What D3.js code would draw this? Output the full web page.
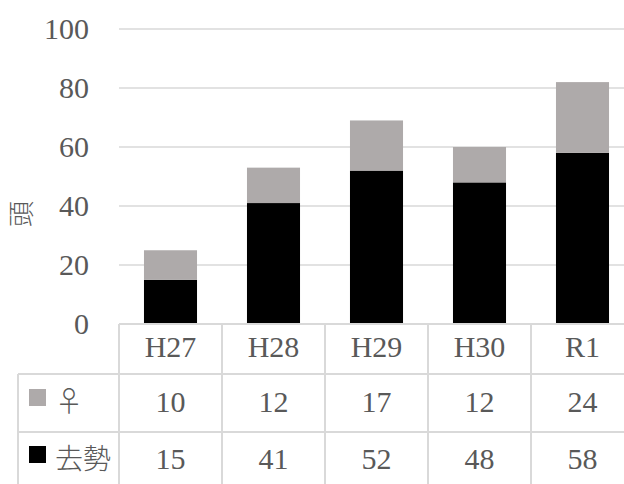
<!DOCTYPE html>
<html>
<head>
<meta charset="utf-8">
<script src="https://cdn.jsdelivr.net/npm/d3@7"></script>
<style>
  body { margin: 0; background: #fff; }
  svg text { fill: #595959; }
</style>
</head>
<body>
<div id="chart-area"></div>
<script>
// Data
var categories = ["H27", "H28", "H29", "H30", "R1"];
var seriesNames = ["去勢", "♀"];
var kyosei = [15, 41, 52, 48, 58];
var female = [10, 12, 17, 12, 24];
var yTicks = [0, 20, 40, 60, 80, 100];

var colors = { "去勢": "#000000", "♀": "#AEAAAA" };
var serif = "'Liberation Serif', 'DejaVu Serif', serif";
var cjk = "'Noto Sans CJK JP', sans-serif";

// SVG size
var width = 624,
    height = 484;

var svg = d3.select("#chart-area").append("svg")
    .attr("width", width)
    .attr("height", height);

// Build stack table
var rows = categories.map(function(c, i) {
    return { cat: c, "去勢": kyosei[i], "♀": female[i] };
});
var stacked = d3.stack().keys(seriesNames)(rows);

// Scales
var plotLeft = 119, plotTop = 29, plotBottom = 324;
var xScale = d3.scaleBand()
    .domain(categories)
    .range([plotLeft, plotLeft + 103 * categories.length])
    .paddingInner(0.485)
    .paddingOuter(0.2425);

var yScale = d3.scaleLinear()
    .domain([0, 100])
    .range([plotBottom, plotTop]);

var step = xScale.step();
var tableLeft = 18;
var rowLines = [plotBottom, 374, 432, 492];
var gridColor = "#D9D9D9";

// Gridlines
svg.selectAll("line.grid")
    .data(yTicks.slice(1))
    .enter()
    .append("line")
    .attr("class", "grid")
    .attr("x1", plotLeft)
    .attr("x2", width)
    .attr("y1", function(d) { return yScale(d); })
    .attr("y2", function(d) { return yScale(d); })
    .attr("stroke", gridColor)
    .attr("stroke-width", 1.5);

// Y tick labels
svg.selectAll("text.ytick")
    .data(yTicks)
    .enter()
    .append("text")
    .attr("class", "ytick")
    .attr("x", 89)
    .attr("y", function(d) { return yScale(d); })
    .attr("dy", "0.33em")
    .attr("text-anchor", "end")
    .style("font-family", serif)
    .style("font-size", "30px")
    .text(function(d) { return d; });

// Y axis title
svg.append("text")
    .attr("transform", "translate(22,214) rotate(-90)")
    .attr("text-anchor", "middle")
    .attr("dy", "0.35em")
    .style("font-family", cjk)
    .style("font-size", "26px")
    .style("font-weight", 300)
    .text("頭");

// Bars
svg.selectAll("g.series")
    .data(stacked)
    .enter()
    .append("g")
    .attr("class", "series")
    .attr("fill", function(d) { return colors[d.key]; })
    .selectAll("rect")
    .data(function(d) { return d; })
    .enter()
    .append("rect")
    .attr("x", function(d) { return xScale(d.data.cat); })
    .attr("y", function(d) { return yScale(d[1]); })
    .attr("width", xScale.bandwidth())
    .attr("height", function(d) { return yScale(d[0]) - yScale(d[1]); });

// Data table: horizontal lines
svg.append("line")
    .attr("x1", plotLeft).attr("x2", width)
    .attr("y1", rowLines[0]).attr("y2", rowLines[0])
    .attr("stroke", gridColor).attr("stroke-width", 2);

svg.selectAll("line.rowline")
    .data(rowLines.slice(1))
    .enter()
    .append("line")
    .attr("class", "rowline")
    .attr("x1", tableLeft).attr("x2", width)
    .attr("y1", function(d) { return d; })
    .attr("y2", function(d) { return d; })
    .attr("stroke", gridColor).attr("stroke-width", 2);

// Vertical lines
var colX = d3.range(categories.length + 1).map(function(i) { return plotLeft + i * step; });
svg.selectAll("line.colline")
    .data(colX)
    .enter()
    .append("line")
    .attr("class", "colline")
    .attr("x1", function(d) { return d; })
    .attr("x2", function(d) { return d; })
    .attr("y1", rowLines[0])
    .attr("y2", height)
    .attr("stroke", gridColor).attr("stroke-width", 2);

svg.append("line")
    .attr("x1", tableLeft).attr("x2", tableLeft)
    .attr("y1", rowLines[1]).attr("y2", height)
    .attr("stroke", gridColor).attr("stroke-width", 2);

// Header labels
svg.selectAll("text.cat")
    .data(categories)
    .enter()
    .append("text")
    .attr("class", "cat")
    .attr("x", function(d) { return xScale(d) + xScale.bandwidth() / 2; })
    .attr("y", 357)
    .attr("text-anchor", "middle")
    .style("font-family", serif)
    .style("font-size", "30px")
    .text(function(d) { return d; });

// Value rows (♀ first, then 去勢)
var tableRows = [
    { name: "♀", values: female, baseline: 412 },
    { name: "去勢", values: kyosei, baseline: 469 }
];

tableRows.forEach(function(r) {
    svg.append("rect")
        .attr("x", 29)
        .attr("y", r.baseline - 23)
        .attr("width", 17)
        .attr("height", 17)
        .attr("fill", colors[r.name]);

    svg.append("text")
        .attr("x", 55)
        .attr("y", r.baseline)
        .style("font-family", cjk)
        .style("font-size", "28px")
        .style("font-weight", 300)
        .text(r.name);

    svg.selectAll(null)
        .data(r.values)
        .enter()
        .append("text")
        .attr("x", function(d, i) { return xScale(categories[i]) + xScale.bandwidth() / 2; })
        .attr("y", r.baseline)
        .attr("text-anchor", "middle")
        .style("font-family", serif)
        .style("font-size", "30px")
        .text(function(d) { return d; });
});
</script>
</body>
</html>
